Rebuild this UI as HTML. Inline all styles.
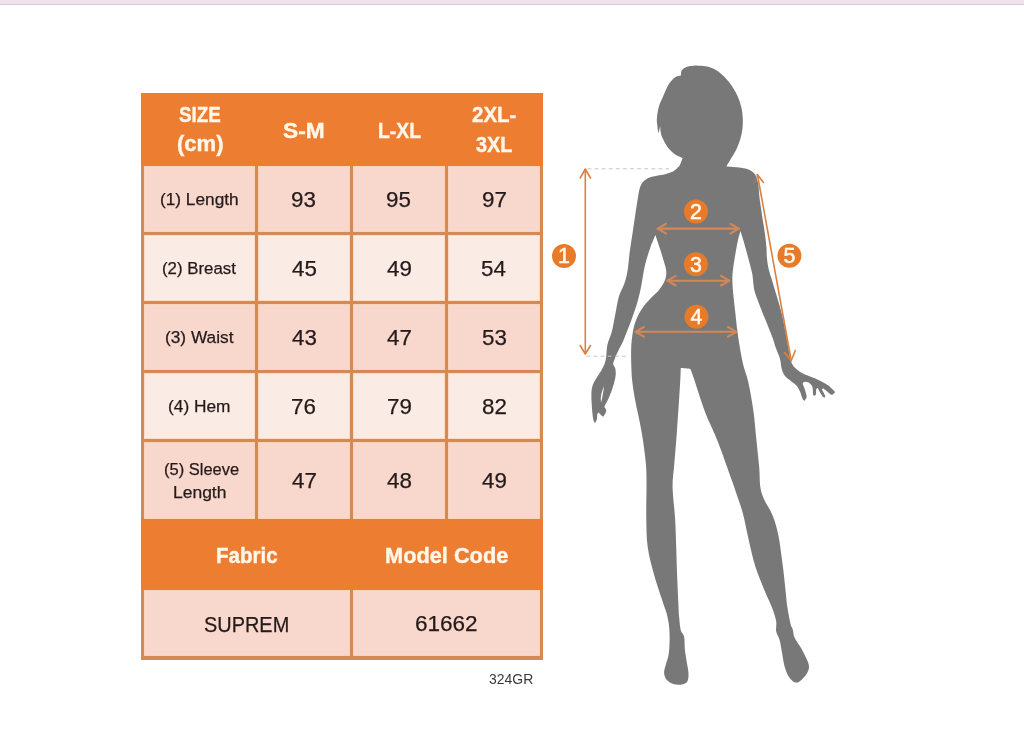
<!DOCTYPE html>
<html lang="en"><head><meta charset="utf-8"><title>Size chart</title>
<style>
html,body{margin:0;padding:0;background:#fff}
body{width:1024px;height:736px;position:relative;overflow:hidden;font-family:"Liberation Sans",sans-serif}
.topbar{position:absolute;left:0;top:0;width:1024px;height:4px;background:#efe4ec;border-bottom:1px solid #d3ccd1}
.size-table{position:absolute;left:141px;top:93px;width:402px;height:567px;background:#d38a55;margin:0}
.row{position:absolute;left:0;width:402px}
.row.head{background:#ed7d31}
.cell{position:absolute;top:0}
.td{box-shadow:inset 0 0 0 1px rgba(255,206,168,.55)}
.band-a .td{background:#f8d8cd}
.band-b .td{background:#fbebe5}
.t{position:absolute;display:block;white-space:nowrap;line-height:1;transform-origin:0 0;font-weight:400;color:#241a1a;-webkit-text-stroke:.25px currentColor}
.hd,.hd2{font-weight:700;color:#fff7ea;-webkit-text-stroke:.4px currentColor}
.hd{font-size:21.7px} .hd2{font-size:22.3px}
.lb{font-size:16.8px} .nm{font-size:21.5px} .vl{font-size:21.6px}
.rf{font-size:15.5px;color:#3a3a3a;-webkit-text-stroke:0}
.fig{position:absolute;left:0;top:0}
.fig .body{fill:#787878}
.fig .guide{stroke:#c4c4c4;stroke-width:1;stroke-dasharray:3.8 3.3;fill:none}
.fig .dim{fill:none;stroke-linecap:round;stroke-linejoin:round}
.fig .thin{stroke:#d9813f;stroke-width:1.6}
.fig .thick{stroke:#da8a56;stroke-width:2.1;opacity:.92}
.fig .badge circle{fill:#e87b2a}
.fig .badge text{fill:#fff6ea;stroke:#fff6ea;stroke-width:.6px;font:23px "Liberation Sans",sans-serif;text-anchor:middle}
</style></head><body>
<div class="topbar"></div>
<main class="chart">
<section class="size-table" role="table" aria-label="Size chart in centimetres">
<div class="row head" role="row" style="top:0;height:73px">
<div class="cell th" role="columnheader" style="left:3px;width:111px;height:73px"><span class="t hd" style="left:34.54px;top:11px;transform:scaleX(0.8659)">SIZE</span><span class="t hd" style="left:32.80px;top:40px;transform:scaleX(1.0168)">(cm)</span></div>
<div class="cell th" role="columnheader" style="left:117px;width:92px;height:73px"><span class="t hd" style="left:25.32px;top:27px;transform:scaleX(1.0461)">S-M</span></div>
<div class="cell th" role="columnheader" style="left:212px;width:92px;height:73px"><span class="t hd" style="left:24.65px;top:27px;transform:scaleX(0.8912)">L-XL</span></div>
<div class="cell th" role="columnheader" style="left:307px;width:92px;height:73px"><span class="t hd" style="left:23.88px;top:11px;transform:scaleX(0.9458)">2XL-</span><span class="t hd" style="left:28.10px;top:41px;transform:scaleX(0.9165)">3XL</span></div>
</div>
<div class="row band-a" role="row" style="top:73px;height:66px">
<div class="cell td label" role="rowheader" style="left:3px;width:111px;height:66px"><span class="t lb" style="left:15.96px;top:26px;transform:scaleX(1.0279)">(1) Length</span></div>
<div class="cell td" role="cell" style="left:117px;width:92px;height:66px"><span class="t nm" style="left:33.38px;top:24px;transform:scaleX(1.0400)">93</span></div>
<div class="cell td" role="cell" style="left:212px;width:92px;height:66px"><span class="t nm" style="left:33.48px;top:24px;transform:scaleX(1.0400)">95</span></div>
<div class="cell td" role="cell" style="left:307px;width:92px;height:66px"><span class="t nm" style="left:33.59px;top:24px;transform:scaleX(1.0400)">97</span></div>
</div>
<div class="row band-b" role="row" style="top:142px;height:66px">
<div class="cell td label" role="rowheader" style="left:3px;width:111px;height:66px"><span class="t lb" style="left:18.24px;top:26px;transform:scaleX(1.0024)">(2) Breast</span></div>
<div class="cell td" role="cell" style="left:117px;width:92px;height:66px"><span class="t nm" style="left:33.71px;top:24px;transform:scaleX(1.0400)">45</span></div>
<div class="cell td" role="cell" style="left:212px;width:92px;height:66px"><span class="t nm" style="left:33.93px;top:24px;transform:scaleX(1.0400)">49</span></div>
<div class="cell td" role="cell" style="left:307px;width:92px;height:66px"><span class="t nm" style="left:33.48px;top:24px;transform:scaleX(1.0400)">54</span></div>
</div>
<div class="row band-a" role="row" style="top:211px;height:66px">
<div class="cell td label" role="rowheader" style="left:3px;width:111px;height:66px"><span class="t lb" style="left:20.96px;top:26px;transform:scaleX(1.0302)">(3) Waist</span></div>
<div class="cell td" role="cell" style="left:117px;width:92px;height:66px"><span class="t nm" style="left:33.71px;top:24px;transform:scaleX(1.0400)">43</span></div>
<div class="cell td" role="cell" style="left:212px;width:92px;height:66px"><span class="t nm" style="left:33.93px;top:24px;transform:scaleX(1.0400)">47</span></div>
<div class="cell td" role="cell" style="left:307px;width:92px;height:66px"><span class="t nm" style="left:33.59px;top:24px;transform:scaleX(1.0400)">53</span></div>
</div>
<div class="row band-b" role="row" style="top:280px;height:66px">
<div class="cell td label" role="rowheader" style="left:3px;width:111px;height:66px"><span class="t lb" style="left:24.46px;top:26px;transform:scaleX(1.0305)">(4) Hem</span></div>
<div class="cell td" role="cell" style="left:117px;width:92px;height:66px"><span class="t nm" style="left:33.38px;top:24px;transform:scaleX(1.0400)">76</span></div>
<div class="cell td" role="cell" style="left:212px;width:92px;height:66px"><span class="t nm" style="left:33.59px;top:24px;transform:scaleX(1.0400)">79</span></div>
<div class="cell td" role="cell" style="left:307px;width:92px;height:66px"><span class="t nm" style="left:33.70px;top:24px;transform:scaleX(1.0400)">82</span></div>
</div>
<div class="row band-a" role="row" style="top:349px;height:77px">
<div class="cell td label" role="rowheader" style="left:3px;width:111px;height:77px"><span class="t lb" style="left:20.01px;top:20px;transform:scaleX(0.9831)">(5) Sleeve</span><span class="t lb" style="left:28.70px;top:43px;transform:scaleX(1.0412)">Length</span></div>
<div class="cell td" role="cell" style="left:117px;width:92px;height:77px"><span class="t nm" style="left:33.83px;top:29px;transform:scaleX(1.0400)">47</span></div>
<div class="cell td" role="cell" style="left:212px;width:92px;height:77px"><span class="t nm" style="left:33.81px;top:29px;transform:scaleX(1.0400)">48</span></div>
<div class="cell td" role="cell" style="left:307px;width:92px;height:77px"><span class="t nm" style="left:33.93px;top:29px;transform:scaleX(1.0400)">49</span></div>
</div>
<div class="row head" role="row" style="top:426px;height:71px">
<div class="cell th" role="columnheader" style="left:3px;width:206px;height:71px"><span class="t hd2" style="left:72.31px;top:26px;transform:scaleX(0.9201)">Fabric</span></div>
<div class="cell th" role="columnheader" style="left:212px;width:187px;height:71px"><span class="t hd2" style="left:31.58px;top:26px;transform:scaleX(0.9759)">Model Code</span></div>
</div>
<div class="row band-a" role="row" style="top:497px;height:66px">
<div class="cell td" role="cell" style="left:3px;width:206px;height:66px"><span class="t vl" style="left:60.40px;top:24px;transform:scaleX(0.9226)">SUPREM</span></div>
<div class="cell td" role="cell" style="left:212px;width:187px;height:66px"><span class="t nm" style="left:61.77px;top:24px;transform:scaleX(1.0474)">61662</span></div>
</div>
</section>
<div class="t rf" style="left:489.24px;top:671px;transform:scaleX(0.9007)">324GR</div>
<figure style="margin:0">
<svg class="fig" width="1024" height="736" viewBox="0 0 1024 736" role="img" aria-label="Body measurement guide">
<path class="body" d="M696.0,65.5C698.0,65.7 704.5,65.7 708.3,66.8C712.1,67.9 715.4,69.4 718.9,72.1C722.4,74.8 726.4,78.7 729.5,82.7C732.6,86.7 735.4,91.4 737.5,95.9C739.6,100.5 741.0,105.3 741.9,110.0C742.8,114.7 742.9,119.8 742.8,124.2C742.6,128.6 742.0,132.5 741.0,136.6C740.0,140.7 738.4,145.1 736.6,148.9C734.8,152.7 732.1,156.6 730.4,159.5C728.7,162.4 727.1,165.2 726.4,166.4C728.1,166.5 733.5,166.8 736.7,167.2C739.9,167.6 743.0,168.0 745.4,168.6C747.8,169.2 749.3,169.9 750.9,170.8C752.5,171.7 753.7,172.7 754.7,174.0C755.7,175.3 756.2,176.5 756.8,178.4C757.4,180.3 758.0,182.1 758.5,185.4C759.0,188.8 759.1,194.5 759.6,198.5C760.1,202.5 760.7,205.7 761.2,209.3C761.7,212.9 762.2,216.4 762.8,220.2C763.4,224.0 764.1,227.6 764.7,232.0C765.3,236.4 766.0,242.4 766.4,246.7C766.8,251.0 766.5,254.0 766.9,257.6C767.2,261.2 767.7,264.9 768.5,268.5C769.3,272.1 770.6,275.7 771.7,279.3C772.8,282.9 773.9,286.4 775.0,290.2C776.1,294.0 777.2,297.4 778.5,302.0C779.8,306.6 781.5,312.2 782.8,318.0C784.1,323.8 785.2,330.7 786.4,337.0C787.6,343.3 789.0,351.8 789.8,356.0C790.6,360.2 790.4,360.1 791.2,362.0C792.0,363.9 793.0,365.8 794.7,367.6C796.4,369.4 798.9,371.3 801.4,372.8C803.9,374.3 807.0,375.3 810.0,376.6C813.0,377.9 816.5,379.0 819.5,380.4C822.5,381.8 825.4,383.3 828.0,385.2C830.6,387.1 834.0,390.8 835.2,391.9C834.6,392.4 833.1,394.8 831.8,394.7C830.4,394.6 828.5,392.4 827.1,391.4C825.7,390.4 824.2,388.8 823.3,388.5C822.4,388.2 822.1,389.3 821.9,389.5C822.5,390.6 825.0,394.8 825.2,396.1C825.4,397.4 824.2,397.9 823.3,397.1C822.3,396.3 820.5,392.9 819.5,391.4C818.5,389.9 818.2,388.3 817.6,388.0C817.0,387.7 816.4,389.2 816.1,389.5C816.0,390.4 816.2,393.8 815.7,394.7C815.2,395.6 813.8,396.1 813.3,395.2C812.8,394.3 813.0,391.1 812.8,389.5C812.6,387.9 812.7,386.9 811.9,385.7C811.1,384.5 809.4,382.9 808.1,382.3C806.8,381.7 805.2,381.6 804.3,381.9C803.4,382.1 802.6,382.4 802.8,383.8C802.9,385.2 804.6,388.2 805.2,390.4C805.8,392.6 806.8,395.4 806.6,397.1C806.5,398.9 804.7,400.3 804.3,400.9C804.0,400.5 803.1,400.1 802.4,398.5C801.7,396.9 801.0,393.5 800.0,391.4C799.0,389.3 798.1,387.4 796.6,385.7C795.1,383.9 792.8,382.5 790.9,380.9C789.0,379.3 786.7,378.1 785.2,376.2C783.7,374.3 782.8,372.4 781.9,369.5C781.0,366.6 781.0,362.6 780.0,359.0C779.0,355.4 777.0,351.3 775.7,347.6C774.4,343.9 774.1,341.9 772.3,337.0C770.5,332.1 767.1,324.0 764.7,318.0C762.3,312.0 759.8,305.6 758.0,300.9C756.2,296.1 755.2,294.0 754.2,289.5C753.2,285.0 753.2,279.2 752.3,274.1C751.3,269.0 749.9,264.3 748.5,258.9C747.1,253.5 745.1,246.5 743.8,241.8C742.5,237.2 741.0,232.8 740.5,231.0C740.1,232.5 738.9,235.9 738.0,239.9C737.1,243.9 736.1,250.0 735.2,255.1C734.4,260.2 733.4,265.9 732.9,270.3C732.4,274.7 732.3,277.0 732.4,281.7C732.5,286.4 733.2,292.9 733.7,298.3C734.2,303.7 734.9,308.9 735.5,314.2C736.1,319.5 736.5,324.5 737.2,330.1C737.9,335.7 738.9,341.8 739.9,347.7C740.9,353.6 742.1,360.0 743.4,365.4C744.7,370.8 746.5,374.6 747.8,380.0C749.1,385.4 750.3,391.8 751.3,397.7C752.3,403.6 753.3,409.4 754.0,415.3C754.7,421.2 755.1,427.1 755.7,433.0C756.3,438.9 756.9,444.8 757.5,450.7C758.1,456.6 758.8,462.4 759.3,468.3C759.8,474.2 759.5,481.0 760.2,486.0C760.9,491.0 761.6,493.4 763.7,498.4C765.8,503.3 770.2,509.5 772.7,515.7C775.2,521.9 776.8,527.5 778.4,535.6C780.0,543.7 781.4,555.2 782.6,564.2C783.8,573.2 784.7,582.9 785.5,589.9C786.3,596.9 786.4,600.4 787.2,606.0C788.0,611.6 789.5,619.3 790.4,623.3C791.3,627.3 792.2,627.5 792.9,629.9C793.6,632.2 793.1,634.3 794.5,637.4C795.9,640.5 799.1,644.5 801.2,648.2C803.3,651.9 805.7,656.6 807.0,659.8C808.3,663.0 809.1,664.8 809.0,667.3C808.9,669.8 807.7,672.4 806.1,674.8C804.5,677.1 801.4,680.2 799.5,681.4C797.6,682.6 796.3,683.0 794.5,682.2C792.7,681.4 790.4,679.0 788.7,676.4C787.1,673.8 785.7,670.3 784.6,666.4C783.5,662.5 782.9,657.6 782.1,653.2C781.3,648.8 780.6,643.5 779.6,639.9C778.6,636.3 776.8,634.6 776.2,631.6C775.6,628.6 776.8,625.2 776.2,621.6C775.7,618.0 774.1,613.6 772.9,610.0C771.7,606.4 770.0,602.9 768.8,600.0C767.6,597.1 767.7,598.2 765.5,592.7C763.3,587.2 758.4,576.0 755.5,567.0C752.6,558.0 750.5,547.5 748.4,538.5C746.3,529.5 745.0,521.2 742.7,512.8C740.4,504.4 737.0,495.4 734.5,488.0C732.0,480.6 729.7,474.5 727.5,468.3C725.3,462.1 723.5,456.6 721.3,450.7C719.1,444.8 716.7,438.9 714.2,433.0C711.7,427.1 708.6,421.2 706.3,415.3C703.9,409.4 702.1,403.6 700.1,397.7C698.1,391.8 696.0,384.8 694.4,380.0C692.8,375.2 691.1,370.8 690.4,369.0C688.8,368.9 682.4,368.2 680.8,368.1C680.7,370.1 680.6,375.1 680.3,380.0C680.0,384.9 679.6,391.8 679.2,397.7C678.8,403.6 678.4,409.4 678.0,415.3C677.6,421.2 677.2,427.1 676.8,433.0C676.4,438.9 675.9,444.8 675.4,450.7C674.9,456.6 674.4,462.1 673.9,468.3C673.4,474.5 672.4,479.6 672.6,488.0C672.8,496.4 674.5,508.6 675.1,518.5C675.7,528.4 675.9,537.6 676.2,547.1C676.5,556.6 676.8,566.5 677.1,575.6C677.5,584.8 678.0,595.2 678.3,602.0C678.6,608.8 678.7,612.0 679.1,616.6C679.5,621.2 679.9,626.6 680.7,629.9C681.5,633.2 683.4,633.2 684.1,636.5C684.8,639.8 684.4,645.4 684.9,649.8C685.4,654.2 686.3,659.2 686.9,663.1C687.5,667.0 688.4,670.1 688.5,673.1C688.6,676.1 688.5,679.5 687.4,681.4C686.2,683.3 684.0,684.0 681.6,684.4C679.2,684.8 675.8,684.7 673.3,683.9C670.8,683.1 668.1,681.5 666.6,679.7C665.1,677.9 664.2,675.6 664.1,673.1C664.0,670.6 665.0,667.8 665.8,664.8C666.5,661.8 668.0,658.7 668.6,654.8C669.2,650.9 669.5,646.2 669.6,641.5C669.7,636.8 669.6,631.3 669.1,626.6C668.6,621.9 667.7,617.4 666.6,613.3C665.5,609.2 664.8,608.3 662.8,602.0C660.8,595.7 656.8,584.8 654.3,575.6C651.8,566.5 649.0,556.6 647.7,547.1C646.4,537.6 646.5,528.4 646.3,518.5C646.1,508.6 646.5,496.4 646.5,488.0C646.5,479.6 646.6,474.5 646.2,468.3C645.9,462.1 645.1,456.6 644.4,450.7C643.7,444.8 642.8,438.9 641.8,433.0C640.8,427.1 639.5,421.2 638.3,415.3C637.1,409.4 635.7,403.6 634.7,397.7C633.7,391.8 632.7,386.0 632.1,380.0C631.5,374.0 631.4,367.3 631.2,361.9C631.1,356.5 631.0,352.4 631.2,347.7C631.4,343.0 631.9,338.0 632.6,333.6C633.3,329.2 634.1,325.3 635.6,321.2C637.1,317.1 639.3,312.7 641.8,308.9C644.3,305.1 647.8,301.6 650.7,298.3C653.7,295.1 657.1,292.3 659.5,289.4C661.9,286.4 663.7,283.5 664.8,280.6C665.9,277.7 666.4,275.0 666.3,272.0C666.2,269.0 665.3,266.4 664.2,262.5C663.1,258.6 661.3,252.9 659.8,248.3C658.3,243.7 656.1,237.3 655.4,235.1C654.5,237.3 651.9,243.2 650.1,248.3C648.3,253.5 646.3,259.4 644.8,266.0C643.3,272.6 642.3,281.1 640.9,287.7C639.5,294.2 638.3,299.4 636.5,305.3C634.7,311.2 632.5,317.1 630.3,323.0C628.1,328.9 625.2,336.2 623.3,340.7C621.3,345.2 620.0,347.0 618.6,350.0C617.2,353.0 615.7,356.3 614.8,358.7C613.9,361.1 613.1,362.5 613.2,364.1C613.3,365.7 614.9,366.7 615.3,368.5C615.7,370.3 615.9,372.6 615.7,375.0C615.5,377.4 614.9,379.9 614.2,382.6C613.5,385.3 612.5,388.6 611.5,391.3C610.5,394.0 609.3,396.7 608.3,398.9C607.3,401.1 606.1,402.9 605.5,404.3C604.9,405.7 604.4,406.2 604.5,407.1C604.6,408.0 605.9,408.8 606.1,409.8C606.3,410.8 606.0,411.8 605.5,413.0C605.0,414.2 603.8,416.2 603.4,416.8C603.0,416.5 602.0,415.9 601.2,415.2C600.4,414.5 599.0,412.9 598.5,412.5C598.3,412.8 597.7,412.9 597.4,414.1C597.1,415.3 597.2,418.1 596.8,419.6C596.4,421.1 595.5,422.4 595.2,423.0C594.9,422.6 594.1,422.2 593.6,420.7C593.1,419.2 592.8,416.8 592.5,414.1C592.2,411.4 591.9,407.7 591.7,404.3C591.5,400.9 591.3,396.6 591.4,393.5C591.5,390.4 591.7,388.4 592.5,385.9C593.3,383.4 594.8,380.8 596.3,378.3C597.8,375.8 599.8,373.1 601.2,370.7C602.6,368.3 603.7,366.3 604.5,364.1C605.3,361.9 605.6,360.8 606.1,357.6C606.6,354.4 606.5,349.2 607.4,344.9C608.3,340.6 610.5,336.9 611.8,331.8C613.1,326.7 614.1,320.1 615.3,314.2C616.5,308.3 617.4,301.5 618.9,296.5C620.4,291.5 622.7,288.5 624.2,284.1C625.7,279.7 626.8,275.4 627.7,270.0C628.6,264.6 628.9,257.9 629.7,251.9C630.5,245.9 631.5,240.1 632.4,234.2C633.3,228.3 634.1,222.4 635.0,216.5C635.9,210.6 636.8,203.9 637.7,198.9C638.6,193.9 639.1,189.6 640.3,186.5C641.5,183.4 642.9,181.9 644.8,180.3C646.7,178.7 648.6,177.8 651.8,176.8C655.0,175.8 660.7,175.4 664.2,174.5C667.7,173.6 670.6,172.7 673.0,171.5C675.4,170.3 677.1,168.2 678.3,167.1C679.5,166.0 679.3,166.3 680.0,164.8C680.7,163.3 682.2,159.2 682.7,158.1C681.4,157.4 677.3,156.0 674.8,154.2C672.3,152.4 669.7,149.8 667.7,147.2C665.7,144.5 663.8,140.9 662.6,138.3C661.4,135.7 661.0,133.6 660.6,131.5C660.2,129.4 660.3,126.9 660.2,126.0C660.1,126.7 659.6,128.8 659.3,130.0C659.0,131.2 658.5,132.8 658.3,133.3C658.1,132.1 657.6,128.5 657.4,126.0C657.2,123.5 656.6,121.8 656.9,118.5C657.1,115.2 657.8,110.3 658.9,106.5C660.0,102.7 661.7,99.6 663.3,95.9C664.9,92.2 666.7,87.5 668.6,84.4C670.5,81.3 672.8,78.9 674.8,77.4C676.8,75.9 679.9,75.9 680.9,75.6C681.0,74.7 680.8,71.8 681.8,70.3C682.8,68.8 684.7,67.6 687.1,66.8C689.5,66.0 694.5,65.7 696.0,65.5Z"/>
<path d="M604.1,386.3C603.6,390 602.6,396 601.2,402.6C600.4,399 600.6,394 604.1,386.3Z" fill="#fff"/>
<g class="guide">
<path d="M587.5,168.8H669"/><path d="M586.5,356.2H626"/>
</g>
<g class="dim thin">
<path d="M585.3,169.5V353.5"/><path d="M580.2,178L585.3,169L590.5,178"/><path d="M580.2,345.5L585.3,354L590.5,345.5"/>
<path d="M757.5,175L791.2,360.5"/><path d="M757.3,174.6L763.4,182.4"/><path d="M754,183.5L757.3,174.6" opacity=".35"/><path d="M784.5,352.5L791.2,360.8L795.3,350.5"/>
</g>
<g class="dim thick">
<path d="M657.7,228.6H738.8"/><path d="M665.9,223.8L657.7,228.6L665.9,233.4"/><path d="M730.6,223.8L738.8,228.6L730.6,233.4"/>
<path d="M667.5,280.7H729.2"/><path d="M675.7,275.9L667.5,280.7L675.7,285.5"/><path d="M721.0,275.9L729.2,280.7L721.0,285.5"/>
<path d="M635.6,331.8H736.2"/><path d="M643.8,327.0L635.6,331.8L643.8,336.6"/><path d="M728.0,327.0L736.2,331.8L728.0,336.6"/>
</g>
<g class="badge"><circle cx="564" cy="255.9" r="12"/><text x="564" y="263.4" transform="translate(564 0) scale(.93 1) translate(-564 0)">1</text></g>
<g class="badge"><circle cx="696" cy="211.5" r="12"/><text x="696" y="219.0" transform="translate(696 0) scale(.93 1) translate(-696 0)">2</text></g>
<g class="badge"><circle cx="695.9" cy="264.3" r="12"/><text x="695.9" y="271.8" transform="translate(695.9 0) scale(.93 1) translate(-695.9 0)">3</text></g>
<g class="badge"><circle cx="696.5" cy="316.8" r="12"/><text x="696.5" y="324.3" transform="translate(696.5 0) scale(.93 1) translate(-696.5 0)">4</text></g>
<g class="badge"><circle cx="789.4" cy="255.7" r="12"/><text x="789.4" y="263.2" transform="translate(789.4 0) scale(.93 1) translate(-789.4 0)">5</text></g>
</svg>
</figure>
</main>
</body></html>
